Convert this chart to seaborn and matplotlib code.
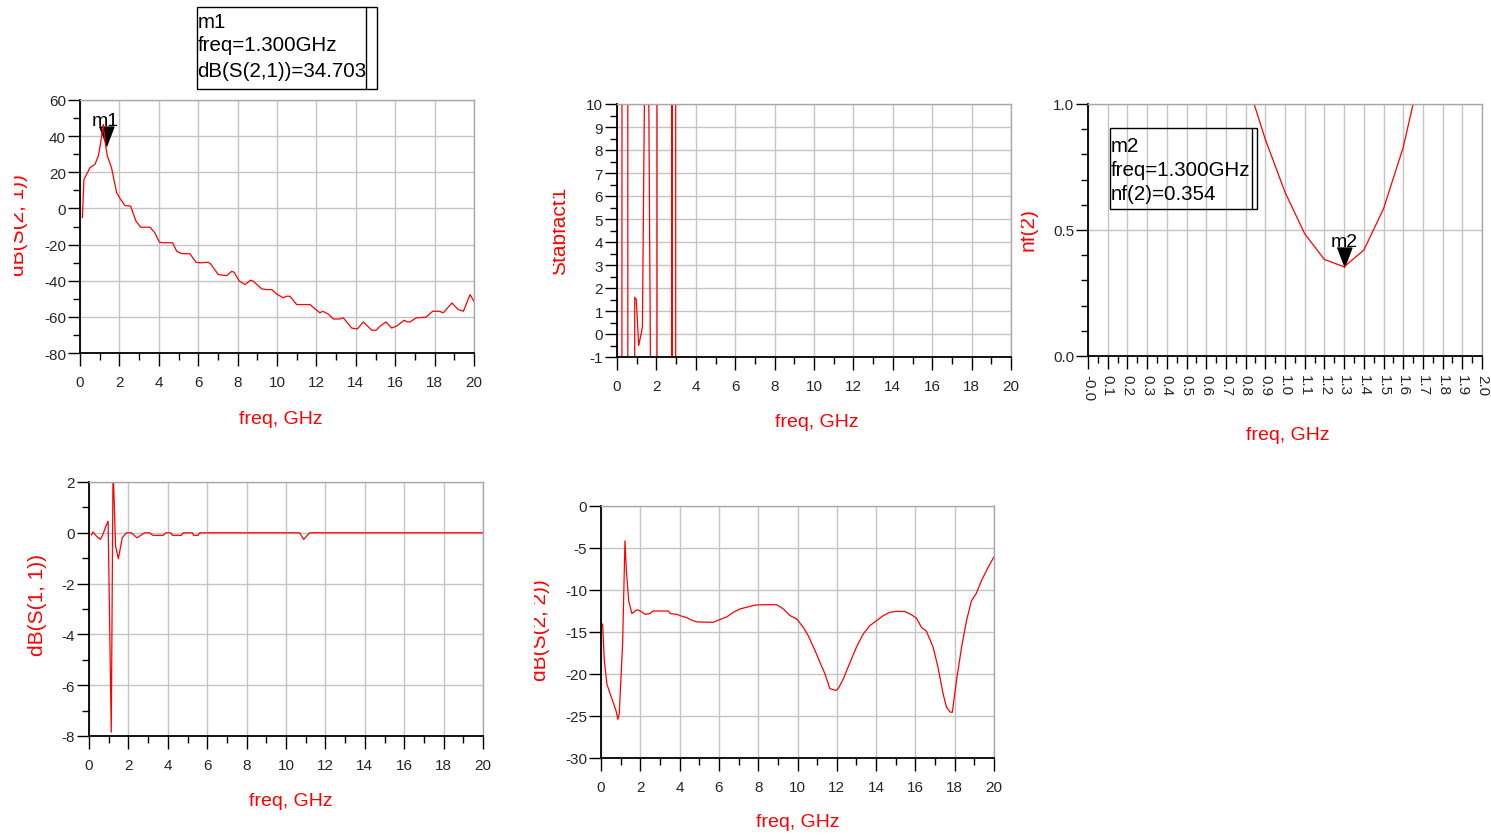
import numpy as np
import pandas as pd
import matplotlib
matplotlib.use("Agg")
import matplotlib.pyplot as plt
import seaborn as sns
from matplotlib.ticker import MultipleLocator, FixedLocator
from matplotlib.transforms import Bbox, TransformedBbox
from matplotlib.patches import Rectangle
from matplotlib.lines import Line2D

# dB(S(2,1)) vs freq, GHz
s21_freq = [0.12, 0.2, 0.42, 0.5, 0.76, 0.93, 1.05, 1.18, 1.3, 1.39, 1.6, 1.86, 2.06, 2.28, 2.57,
            2.84, 3.08, 3.55, 3.8, 4.03, 4.23, 4.7, 4.91, 5.16, 5.58, 5.89, 6.09, 6.51, 6.63,
            7.02, 7.45, 7.7, 7.82, 8.09, 8.38, 8.66, 8.8, 9.22, 9.48, 9.73, 9.98, 10.32, 10.46,
            10.66, 11.0, 11.68, 11.93, 12.18, 12.32, 12.6, 12.86, 13.16, 13.37, 13.79, 14.08,
            14.38, 14.81, 15.03, 15.23, 15.53, 15.82, 16.1, 16.45, 16.62, 16.75, 17.06, 17.56,
            17.9, 18.24, 18.44, 18.88, 19.2, 19.46, 19.8, 20.0]
s21_db = [-5.2, 16.0, 20.7, 22.5, 24.4, 29.0, 36.4, 46.5, 34.703, 29.0, 22.5, 8.7, 5.0, 1.6, 1.3,
          -7.0, -10.4, -10.4, -13.5, -18.7, -19.0, -19.0, -23.7, -25.0, -25.1, -29.8, -30.1,
          -29.8, -30.7, -36.6, -37.2, -34.8, -35.3, -40.3, -42.1, -39.7, -40.3, -44.5, -44.9,
          -44.9, -47.3, -49.5, -48.6, -48.6, -53.2, -53.2, -55.6, -57.8, -56.9, -58.4, -61.2,
          -61.2, -60.6, -66.2, -66.7, -62.8, -67.4, -67.4, -65.2, -62.8, -66.2, -64.9, -61.9,
          -62.8, -62.8, -60.6, -60.2, -56.9, -56.9, -57.8, -52.3, -56.0, -56.9, -47.7, -51.4]

# Stabfact1 vs freq, GHz (values far off the visible range are clipped)
stab_freq = [0.1, 0.2, 0.3, 0.5, 0.6, 0.8, 0.9, 0.98, 1.1, 1.2, 1.29, 1.4, 1.6, 1.7, 1.8, 2.0,
             2.06, 2.7, 2.77, 2.78, 2.79, 2.8, 2.96, 3.0, 20.0]
stab_val = [-300, -300, 300, 300, -300, -300, 1.6, 1.5, -0.5, -0.1, 0.3, 11, 12, -1.5, -300, -300,
            300, 300, 300, 1.9, -300, 300, 300, -300, -300]

# nf(2) vs freq, GHz
nf_freq = [0.6, 0.7, 0.8, 0.9, 1.0, 1.1, 1.2, 1.3, 1.4, 1.5, 1.6, 1.7, 1.8]
nf_val = [1.9, 1.45, 1.106, 0.86, 0.65, 0.485, 0.383, 0.354, 0.42, 0.584, 0.828, 1.17, 1.6]
nf_xlabels = ["-0.0"] + ["%.1f" % v for v in np.arange(0.1, 2.01, 0.1)]

# dB(S(1,1)) vs freq, GHz
s11_freq = [0.12, 0.2, 0.4, 0.58, 0.71, 0.85, 0.97, 1.13, 1.22, 1.35, 1.49, 1.69, 1.9, 2.15,
            2.44, 2.57, 2.83, 3.08, 3.25, 3.76, 3.9, 4.15, 4.23, 4.69, 4.77, 5.25, 5.31, 5.53,
            5.62, 10.69, 10.9, 11.2, 20.0]
s11_db = [-0.09, 0.03, -0.15, -0.26, -0.06, 0.25, 0.46, -7.85, 2.6, -0.52, -1.02, -0.19, 0.0, 0.0,
          -0.2, -0.13, 0.0, 0.0, -0.1, -0.1, 0.0, 0.0, -0.1, -0.1, 0.0, 0.0, -0.1, -0.1,
          0.0, 0.0, -0.26, 0.0, 0.0]

# dB(S(2,2)) vs freq, GHz
s22_freq = [0.08, 0.17, 0.3, 0.47, 0.64, 0.78, 0.86, 0.93, 1.1, 1.22, 1.29, 1.41, 1.57, 1.83,
            2.0, 2.25, 2.5, 2.64, 3.44, 3.52, 3.86, 4.03, 4.37, 4.62, 4.88, 5.72, 6.06, 6.4,
            6.74, 7.08, 7.42, 7.84, 8.26, 8.94, 9.28, 9.62, 9.96, 10.3, 10.55, 10.89, 11.14,
            11.4, 11.65, 11.96, 12.07, 12.33, 12.5, 12.75, 13.0, 13.34, 13.68, 14.02, 14.36,
            14.7, 15.04, 15.46, 15.8, 16.05, 16.31, 16.56, 16.9, 17.15, 17.41, 17.58, 17.78,
            17.88, 18.09, 18.35, 18.6, 18.85, 19.1, 19.36, 19.7, 20.0]
s22_db = [-14.05, -18.4, -21.2, -22.4, -23.5, -24.5, -25.4, -24.7, -16.4, -4.15, -7.7, -11.3,
          -12.8, -12.35, -12.5, -12.9, -12.8, -12.5, -12.5, -12.8, -12.9, -13.05, -13.3, -13.6,
          -13.8, -13.85, -13.5, -13.2, -12.65, -12.25, -12.05, -11.8, -11.75, -11.75, -12.25,
          -13.05, -13.45, -14.45, -15.45, -17.2, -18.6, -20.0, -21.75, -21.95, -21.75, -20.6,
          -19.6, -18.2, -16.8, -15.25, -14.25, -13.65, -13.05, -12.65, -12.55, -12.55, -12.95,
          -13.35, -14.45, -14.9, -16.8, -19.2, -22.35, -23.95, -24.55, -24.55, -20.8, -16.8,
          -13.65, -11.3, -10.4, -8.9, -7.3, -6.05]

W, H = 1491, 837
RED = "#ff0000"
GRID = "#c4c4c4"

sns.set_style("white")
plt.rcParams["font.family"] = ["Liberation Sans", "DejaVu Sans"]
plt.rcParams["axes.unicode_minus"] = False

fig = plt.figure(figsize=(W / 100, H / 100), dpi=100)


def add_ax(l, r, t, b):
    return fig.add_axes([l / W, 1 - b / H, (r - l) / W, (b - t) / H])


def style_ax(ax, xlim, ylim, xmaj, xmin, ymaj, ymin, xpad=7):
    ax.set_xlim(*xlim)
    ax.set_ylim(*ylim)
    ax.xaxis.set_major_locator(MultipleLocator(xmaj))
    ax.xaxis.set_minor_locator(MultipleLocator(xmin))
    ax.yaxis.set_major_locator(MultipleLocator(ymaj))
    if ymin:
        ax.yaxis.set_minor_locator(MultipleLocator(ymin))
    ax.set_axisbelow(True)
    ax.grid(True, which="major", color=GRID, lw=1)
    ax.tick_params(which="major", direction="out", length=9, width=1, color="black",
                   labelsize=11, left=True, bottom=True)
    ax.tick_params(which="minor", direction="out", length=5, width=1, color="black",
                   left=True, bottom=True)
    ax.tick_params(axis="x", pad=xpad)
    ax.tick_params(axis="y", pad=1)
    for s in ["left", "bottom"]:
        ax.spines[s].set_color("black")
        ax.spines[s].set_linewidth(1.3)
    for s in ["top", "right"]:
        ax.spines[s].set_color("#a8a8a8")
        ax.spines[s].set_linewidth(1)
    ax.set_xlabel("")
    ax.set_ylabel("")


def curve(ax, x, y):
    sns.lineplot(x=x, y=y, ax=ax, color=RED, lw=0.9, estimator=None, sort=False)


def xlabel(cx, cy):
    fig.text(cx / W, 1 - cy / H, "freq, GHz", color=RED, fontsize=14, ha="center", va="center")


def ylabel(base_x, cy, text, clip_x=None):
    # rotated label anchored on its baseline; ADS cuts the tops of the glyphs off
    t = fig.text(base_x / W, 1 - cy / H, text, color=RED, fontsize=15, rotation=90,
                 rotation_mode="anchor", ha="center", va="baseline")
    if clip_x is not None:
        t.set_clip_box(TransformedBbox(Bbox.from_extents(clip_x / W, 0, 1, 1), fig.transFigure))


tri = [(-0.38, 1.0), (0.38, 1.0), (0.0, 0.0)]


def marker(ax, x, y, name):
    ax.plot([x], [y], marker=tri, ms=28, color="black", ls="none", zorder=1.5, clip_on=False)
    ax.annotate(name, (x, y), xytext=(0, 12), textcoords="offset points", ha="center",
                va="bottom", fontsize=14, color="black", annotation_clip=False)


def marker_box(x0, y0, x1, y1, xin, lines, baselines):
    fig.patches.append(Rectangle((x0 / W, 1 - y1 / H), (x1 - x0) / W, (y1 - y0) / H,
                                 transform=fig.transFigure, fill=False, ec="black", lw=1))
    fig.lines.append(Line2D([xin / W, xin / W], [1 - y1 / H, 1 - y0 / H],
                            transform=fig.transFigure, color="black", lw=1))
    for txt, yb in zip(lines, baselines):
        fig.text((x0 + 0.5) / W, 1 - yb / H, txt, fontsize=14.75, ha="left", va="baseline",
                 color="black")


# top left: dB(S(2,1))
ax1 = add_ax(80, 474, 101, 354)
curve(ax1, s21_freq, s21_db)
style_ax(ax1, (0, 20), (-80, 60), 2, 1, 20, 10)
marker(ax1, 1.3, 34.703, "m1")
xlabel(281, 420)
ylabel(24, 225, "dB(S(2, 1))", clip_x=14)
marker_box(197, 8, 377, 90, 366, ["m1", "freq=1.300GHz", "dB(S(2,1))=34.703"], [28, 51, 77])

# top middle: Stabfact1
ax2 = add_ax(617, 1011, 105, 358)
curve(ax2, stab_freq, stab_val)
style_ax(ax2, (0, 20), (-1, 10), 2, 1, 1, 0.5)
xlabel(817, 423)
ylabel(565, 231, "Stabfact1", clip_x=553)

# top right: nf(2)
ax3 = add_ax(1088, 1482, 105, 357)
curve(ax3, nf_freq, nf_val)
style_ax(ax3, (0, 2.0), (0, 1.0), 0.1, 0.05, 0.5, 0.1, xpad=4)
ticks = np.round(np.arange(0, 2.01, 0.1), 1)
ax3.xaxis.set_major_locator(FixedLocator(ticks))
ax3.set_xticklabels(nf_xlabels, rotation=270, fontsize=11)
ax3.set_yticks([0.0, 0.5, 1.0])
ax3.set_yticklabels(["0.0", "0.5", "1.0"])
marker(ax3, 1.3, 0.354, "m2")
xlabel(1288, 436)
ylabel(1034, 230, "nf(2)", clip_x=1021)
marker_box(1110, 129, 1257, 210, 1252, ["m2", "freq=1.300GHz", "nf(2)=0.354"], [152, 176, 200])

# bottom left: dB(S(1,1))
ax4 = add_ax(89, 483, 483, 737)
curve(ax4, s11_freq, s11_db)
style_ax(ax4, (0, 20), (-8, 2), 2, 1, 2, 1)
xlabel(291, 802)
ylabel(43, 605, "dB(S(1, 1))")

# bottom middle: dB(S(2,2))
ax5 = add_ax(601, 994, 507, 759)
curve(ax5, s22_freq, s22_db)
style_ax(ax5, (0, 20), (-30, 0), 2, 1, 5, None)
xlabel(798, 823)
ylabel(546, 630, "dB(S(2, 2))", clip_x=534)

fig.savefig("out.png", dpi=100)
